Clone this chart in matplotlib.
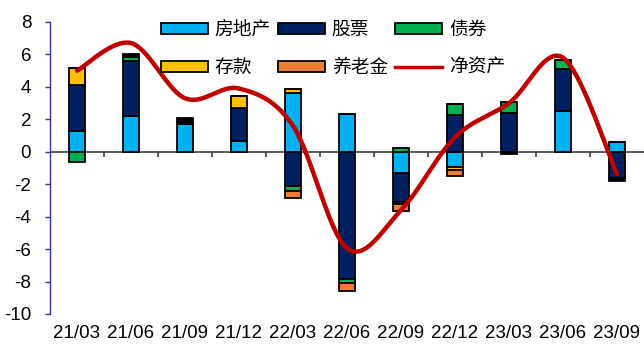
import numpy as np
import matplotlib
matplotlib.use("Agg")
import matplotlib.pyplot as plt
from matplotlib.patches import Patch
from matplotlib.lines import Line2D

plt.rcParams["font.family"] = ["Liberation Sans", "Noto Sans CJK SC", "DejaVu Sans"]
plt.rcParams["axes.unicode_minus"] = False

# 季度
quarters = ["21/03", "21/06", "21/09", "21/12", "22/03", "22/06",
            "22/09", "22/12", "23/03", "23/06", "23/09"]

# 各项资产变动（万亿元）
property_ = [1.30, 2.18, 1.73, 0.68, 3.62, 2.30, -1.30, -0.95, 0.00, 2.49, 0.60]
stocks    = [2.80, 3.40, 0.00, 2.02, -2.14, -7.84, -1.77, 2.24, 2.39, 2.63, -1.64]
bonds     = [-0.60, 0.25, 0.00, 0.00, -0.26, -0.26, 0.23, 0.72, 0.65, 0.56, 0.00]
deposits  = [1.05, 0.00, 0.00, 0.76, 0.25, 0.00, -0.16, -0.15, 0.00, 0.00, 0.00]
pension   = [0.00, 0.00, 0.00, 0.00, -0.44, -0.48, -0.39, -0.42, 0.00, 0.00, 0.00]
other     = [0.00, 0.20, 0.33, 0.00, 0.00, 0.00, 0.00, 0.00, -0.12, 0.00, -0.15]
net_assets = [5.00, 6.70, 3.30, 3.90, 1.60, -5.95, -3.60, 0.90, 3.00, 5.80, -1.38]

series = [
    ("房地产", property_, "#00B0F0"),
    ("股票", stocks, "#002060"),
    ("债券", bonds, "#00B050"),
    ("存款", deposits, "#FFC000"),
    ("养老金", pension, "#ED7D31"),
    (None, other, "#000000"),
]
line_color = "#C00000"
axis_color = "#33339A"


def smooth_curve(xs, ys, steps=40):
    """Bezier smoothing through every point (Catmull-Rom style)."""
    pts = np.column_stack([xs, ys]).astype(float)
    ext = np.vstack([pts[0], pts, pts[-1]])
    t = np.linspace(0, 1, steps)[:, None]
    out = []
    for i in range(len(pts) - 1):
        p0, p1, p2, p3 = ext[i], ext[i + 1], ext[i + 2], ext[i + 3]
        c1 = p1 + (p2 - p0) / 6
        c2 = p2 - (p3 - p1) / 6
        seg = ((1 - t) ** 3) * p1 + 3 * ((1 - t) ** 2) * t * c1 \
            + 3 * (1 - t) * t ** 2 * c2 + t ** 3 * p2
        out.append(seg if i == 0 else seg[1:])
    out = np.vstack(out)
    return out[:, 0], out[:, 1]


fig = plt.figure(figsize=(6.44, 3.47), dpi=100)
ax = fig.add_axes([50 / 644, 33 / 347, 594 / 644, 292 / 347])

x = np.arange(len(quarters))
pos_base = np.zeros(len(x))
neg_base = np.zeros(len(x))
for name, vals, color in series:
    v = np.array(vals)
    bottom = np.where(v >= 0, pos_base, neg_base)
    ax.bar(x, v, width=0.3, bottom=bottom, color=color,
           edgecolor="black", linewidth=1.3, zorder=3)
    pos_base += np.clip(v, 0, None)
    neg_base += np.clip(v, None, 0)

sx, sy = smooth_curve(x, net_assets)
ax.plot(sx, sy, color=line_color, linewidth=3.2, zorder=4,
        solid_capstyle="round")

# 零轴及分类刻度
ax.axhline(0, color="#404040", linewidth=1.2, zorder=2)
ax.vlines(x[:-1] + 0.5, -0.3, 0, color="#404040", linewidth=1.2, zorder=2)

ax.set_xlim(-0.5, len(x) - 0.5)
ax.set_ylim(-10, 8)
ax.set_yticks(np.arange(-10, 9, 2))
ax.set_xticks(x)
ax.set_xticklabels(quarters)

for side in ["top", "right", "bottom"]:
    ax.spines[side].set_visible(False)
ax.spines["left"].set_color(axis_color)
ax.spines["left"].set_linewidth(1.0)
ax.tick_params(axis="y", colors=axis_color, labelcolor="black",
               length=3.5, width=1.0, pad=10, labelsize=13.5)
ax.tick_params(axis="x", length=0, pad=8, labelsize=13.5)

handles = [Patch(facecolor=c, edgecolor="black", linewidth=1.3)
           for n, _, c in series if n is not None]
labels = [n for n, _, _ in series if n is not None]
handles.insert(5, Line2D([], [], color=line_color, linewidth=2.5))
labels.insert(5, "净资产")
# ncol=3 时按列填充，调整顺序使其按行排列
order = [0, 3, 1, 4, 2, 5]
leg = fig.legend([handles[i] for i in order], [labels[i] for i in order],
                 ncol=3, loc="upper left",
                 bbox_to_anchor=(161 / 644, 1 - 19 / 347),
                 frameon=False, borderpad=0, borderaxespad=0,
                 handlelength=2.5, handleheight=0.53, handletextpad=0.37,
                 columnspacing=0.37, labelspacing=0.9,
                 prop={"family": ["Noto Sans CJK SC"], "size": 13.5})

fig.savefig("out.png", dpi=100)
